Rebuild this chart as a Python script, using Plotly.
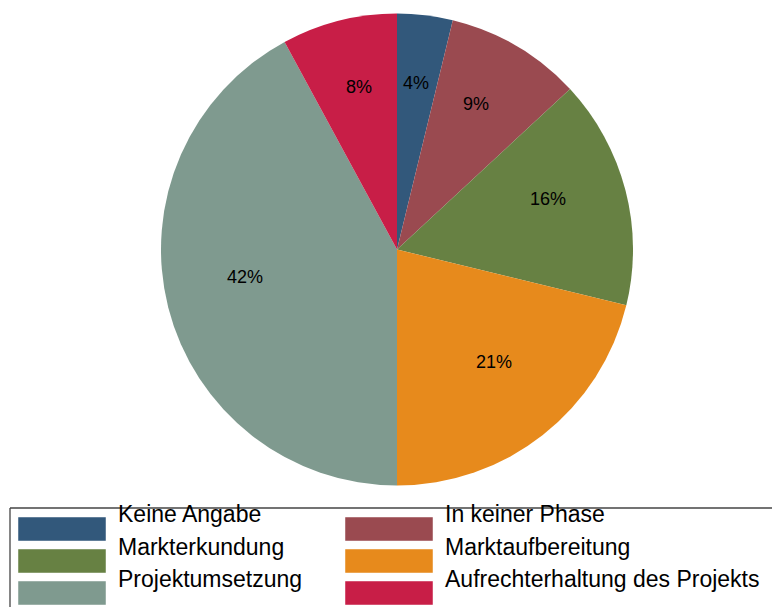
import math
import plotly.graph_objects as go

# ---- data ----
categories = ["Keine Angabe", "In keiner Phase", "Markterkundung",
              "Marktaufbereitung", "Projektumsetzung", "Aufrechterhaltung des Projekts"]
shares = [3.8, 9.3, 15.7, 21.2, 42.1, 7.9]
colors = ["#32587B", "#9A4A50", "#678143", "#E78A1C", "#7F9A8F", "#C81E47"]

W, H = 772, 607
FONT = "Liberation Sans, Arial, sans-serif"

# pie geometry (pixels)
cx, cy, R = 397, 249.5, 236

fig = go.Figure()
fig.add_trace(go.Pie(
    labels=categories,
    values=shares,
    sort=False,
    direction="clockwise",
    rotation=0,
    marker=dict(colors=colors, line=dict(width=0)),
    textinfo="none",
    hoverinfo="label+percent",
    showlegend=False,
    domain=dict(x=[(cx - R) / W, (cx + R) / W],
                y=[1 - (cy + R) / H, 1 - (cy - R) / H]),
))

annotations = []
shapes = []

# slice labels (percent), positioned at mid angle of each slice
total = sum(shares)
cum = 0.0
r0 = 0.663 * R
for v in shares:
    mid = (cum + v / 2) / total * 2 * math.pi
    cum += v
    px = cx + r0 * math.sin(mid)
    py = cy - r0 * math.cos(mid) - 11
    annotations.append(dict(
        x=px / W, y=1 - py / H, xref="paper", yref="paper",
        text=f"{round(v / total * 100)}%", showarrow=False,
        xanchor="center", yanchor="middle",
        font=dict(family=FONT, size=18, color="black"),
    ))

# legend box border (top and left edges)
box_top = 508
shapes.append(dict(type="line", xref="paper", yref="paper",
                   x0=10 / W, x1=1.02, y0=1 - box_top / H, y1=1 - box_top / H,
                   line=dict(color="#444444", width=1.3)))
shapes.append(dict(type="line", xref="paper", yref="paper",
                   x0=10 / W, x1=10 / W, y0=1 - box_top / H, y1=-0.02,
                   line=dict(color="#444444", width=1.3)))

# legend entries: 2 columns x 3 rows
col_sw_x = [18, 345]
col_txt_x = [116, 443]
row_sw_top = [517, 549, 581]
row_txt_mid = [514, 546.5, 579]
for i, (lab, col) in enumerate(zip(categories, colors)):
    r, c = divmod(i, 2)
    x0 = col_sw_x[c]
    shapes.append(dict(type="rect", xref="paper", yref="paper",
                       x0=x0 / W, x1=(x0 + 88) / W,
                       y0=1 - (row_sw_top[r] + 24) / H, y1=1 - row_sw_top[r] / H,
                       fillcolor=col, line=dict(color="rgba(255,255,255,0.6)", width=0.8)))
    annotations.append(dict(
        x=col_txt_x[c] / W, y=1 - row_txt_mid[r] / H, xref="paper", yref="paper",
        text=lab, showarrow=False, xanchor="left", yanchor="middle",
        font=dict(family=FONT, size=23, color="black"),
    ))

fig.update_layout(
    width=W, height=H,
    margin=dict(l=0, r=0, t=0, b=0),
    paper_bgcolor="white", plot_bgcolor="white",
    annotations=annotations, shapes=shapes,
    font=dict(family=FONT),
)

fig.write_html(
    "out.html",
    config={"displayModeBar": False},
    post_script="document.body.style.margin='0';document.body.style.overflow='hidden';",
)
